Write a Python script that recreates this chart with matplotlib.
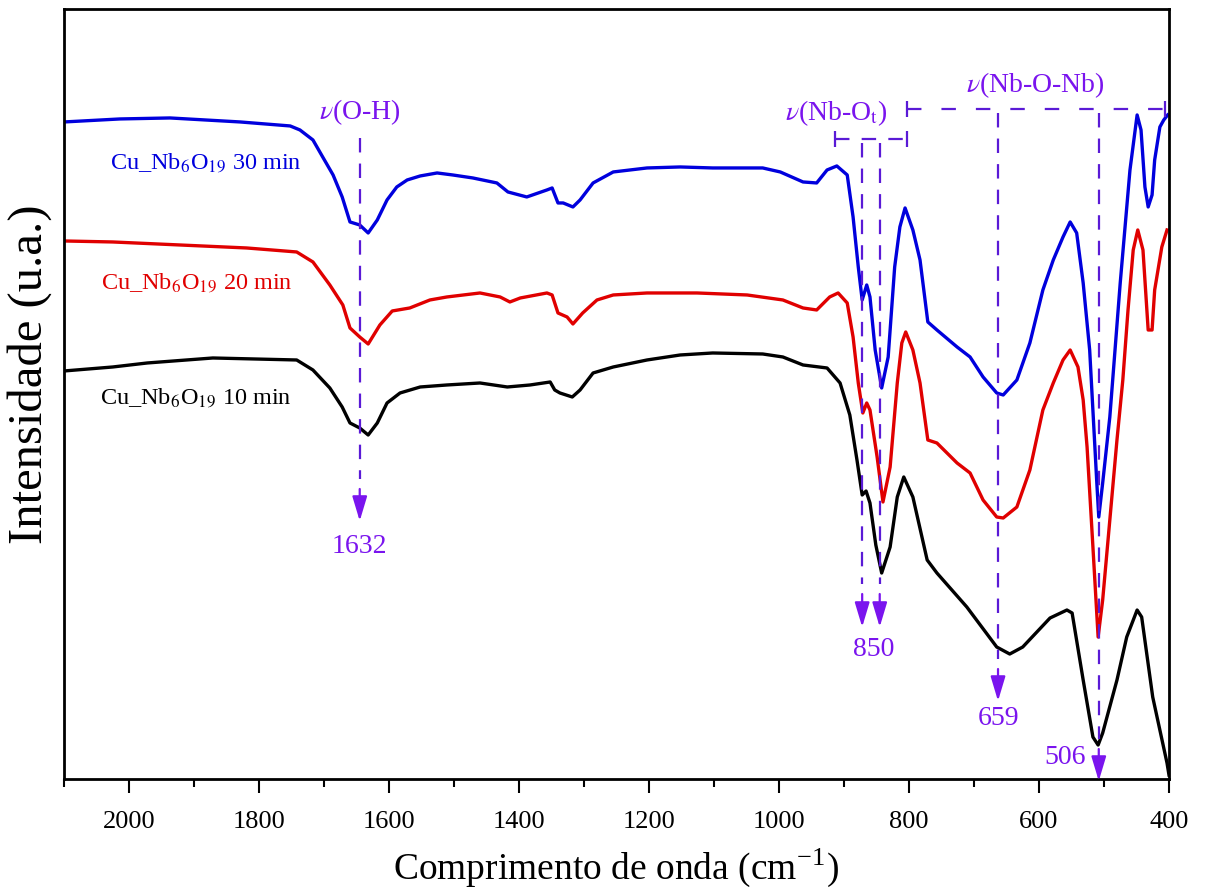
import numpy as np
import matplotlib.pyplot as plt
from matplotlib.ticker import MultipleLocator

plt.rcParams['font.family'] = ['Liberation Serif', 'DejaVu Serif']
plt.rcParams['mathtext.fontset'] = 'stix'

# espectros FTIR (numero de onda, intensidade em u.a. deslocada)
wn_30 = [2100, 2014, 1937, 1829, 1752, 1737, 1717, 1702, 1686, 1672, 1660, 1645, 1632, 1618, 1603,
         1588, 1572, 1552, 1526, 1502, 1471, 1434, 1417, 1388, 1357, 1349, 1340, 1332, 1317, 1306,
         1286, 1255, 1203, 1152, 1102, 1025, 998, 963, 942, 926, 911, 895, 886, 878, 872,
         865, 860, 852, 842, 832, 822, 814, 806, 794, 783, 771, 757, 726, 706, 686,
         665, 655, 634, 614, 594, 578, 563, 552, 542, 532, 522, 511, 508, 502, 491,
         475, 460, 449, 443, 437, 432, 426, 422, 414, 408, 402]
int_30 = [657, 660, 661, 657, 653, 649, 639, 622, 604, 582, 557, 554, 546, 559, 579,
          592, 599, 603, 606, 604, 601, 596, 587, 582, 589, 591, 576, 576, 572, 579,
          596, 607, 611, 612, 611, 611, 607, 597, 596, 609, 613, 604, 562, 512, 479,
          494, 482, 429, 391, 422, 512, 552, 571, 549, 519, 457, 449, 432, 422, 402,
          386, 384, 399, 436, 489, 519, 542, 557, 546, 496, 429, 296, 262, 296, 362,
          496, 609, 664, 649, 592, 572, 584, 619, 652, 659, 664]

wn_20 = [2100, 2025, 1922, 1819, 1742, 1717, 1691, 1671, 1660, 1645, 1632, 1614, 1595, 1568, 1537,
         1511, 1460, 1429, 1414, 1398, 1357, 1349, 1340, 1326, 1317, 1302, 1280, 1255, 1203, 1126,
         1049, 994, 963, 942, 922, 909, 895, 886, 878, 871, 865, 860, 849, 840, 829,
         818, 811, 805, 794, 783, 771, 757, 726, 706, 686, 665, 655, 634, 614, 594,
         578, 563, 552, 540, 532, 526, 517, 509, 502, 491, 480, 471, 463, 455, 448,
         440, 432, 426, 422, 411, 403]
int_20 = [538, 537, 534, 531, 527, 517, 494, 474, 451, 442, 435, 454, 468, 471, 479,
          482, 486, 482, 477, 481, 486, 484, 466, 462, 455, 466, 479, 484, 486, 486,
          484, 479, 471, 469, 482, 486, 476, 442, 396, 366, 376, 369, 322, 277, 312,
          396, 436, 447, 429, 396, 339, 336, 316, 306, 279, 262, 261, 272, 309, 369,
          396, 419, 429, 412, 379, 332, 232, 142, 179, 259, 339, 399, 469, 529, 549,
          529, 449, 449, 489, 532, 549]

wn_10 = [2100, 2025, 1972, 1871, 1742, 1717, 1691, 1672, 1660, 1645, 1632, 1618, 1603, 1583, 1552,
         1511, 1460, 1418, 1383, 1352, 1345, 1337, 1318, 1306, 1286, 1255, 1203, 1152, 1102, 1025,
         994, 963, 926, 906, 891, 880, 872, 866, 860, 851, 842, 829, 818, 808, 794,
         772, 757, 711, 665, 645, 625, 583, 557, 549, 532, 517, 509, 502, 480, 465,
         449, 442, 425, 403, 400]
int_10 = [408, 412, 416, 421, 419, 409, 391, 372, 356, 351, 344, 356, 376, 386, 392,
          394, 396, 392, 394, 397, 389, 386, 382, 389, 406, 412, 419, 424, 426, 425,
          422, 414, 411, 396, 364, 319, 284, 288, 276, 234, 206, 232, 282, 302, 282,
          219, 206, 172, 132, 125, 132, 161, 169, 166, 99, 42, 34, 46, 99, 142,
          169, 162, 82, 16, 4]

labels = [r'Cu_Nb$_6$O$_{19}$ 30 min', r'Cu_Nb$_6$O$_{19}$ 20 min', r'Cu_Nb$_6$O$_{19}$ 10 min']
colors = ['#0000dd', '#e00000', 'black']

# bandas marcadas (posicao da linha tracejada)
band_oh = 1645
bands_nbot = [872, 845]
band_nbonb = [663, 508]

purple = '#7a14ee'
line_purple = '#5a1ad6'

fig = plt.figure(figsize=(12.05, 8.94), dpi=100)
ax = fig.add_axes([0.0531, 0.1286, 0.9170, 0.8614])

kw = dict(lw=2.4, solid_joinstyle='round')
ax.plot(wn_30, int_30, color=colors[0], **kw)
ax.plot(wn_20, int_20, color=colors[1], **kw)
ax.plot(wn_10, int_10, color=colors[2], **kw)

ax.text(2029, 616, labels[0], color=colors[0], fontsize=17.5, va='center', ha='left')
ax.text(2043, 496, labels[1], color=colors[1], fontsize=17.5, va='center', ha='left')
ax.text(2044, 381, labels[2], color=colors[2], fontsize=17.5, va='center', ha='left')

dash = dict(color=line_purple, lw=1.6, dashes=(6.5, 5))


def down_arrow(x, top, arrow_top, tip):
    ax.plot([x, x], [top, arrow_top + 10], **dash)
    ax.annotate('', xy=(x, tip), xytext=(x, arrow_top), annotation_clip=False,
                arrowprops=dict(arrowstyle='-|>,head_length=1.5,head_width=0.45',
                                color=purple, lw=1.6, shrinkA=0, shrinkB=0))


# nu(O-H)
ax.text(band_oh, 667, r'$\nu$(O-H)', color=purple, fontsize=20, ha='center', va='center')
down_arrow(band_oh, 641, 290, 258)
ax.text(band_oh, 233, '1632', color=purple, fontsize=20, ha='center', va='center')

# nu(Nb-Ot)
ax.text(912, 666, r'$\nu$(Nb-O$_{\mathrm{t}}$)', color=purple, fontsize=20, ha='center', va='center')
ax.plot([914, 803], [640, 640], marker='|', markersize=12, mew=1.6, color=line_purple,
        lw=1.6, dashes=(6.5, 5.5))
for b in bands_nbot:
    down_arrow(b, 636, 185, 152)
ax.text(854, 130, '850', color=purple, fontsize=20, ha='center', va='center')

# nu(Nb-O-Nb)
ax.text(606, 694, r'$\nu$(Nb-O-Nb)', color=purple, fontsize=20, ha='center', va='center')
ax.plot([803, 406], [670, 670], marker='|', markersize=12, mew=1.6, color=line_purple,
        lw=1.6, dashes=(6.5, 9))
down_arrow(band_nbonb[0], 666, 110, 78)
ax.text(662, 61, '659', color=purple, fontsize=20, ha='center', va='center')
down_arrow(band_nbonb[1], 666, 30, -2)
ax.text(560, 22, '506', color=purple, fontsize=20, ha='center', va='center')

ax.set_xlim(2100, 400)
ax.set_ylim(0, 770)
ax.xaxis.set_major_locator(MultipleLocator(200))
ax.xaxis.set_minor_locator(MultipleLocator(100))
ax.set_yticks([])
ax.tick_params(axis='x', which='major', direction='out', length=10, width=1.5,
               labelsize=19, pad=13)
ax.tick_params(axis='x', which='minor', direction='out', length=5.5, width=1.5)
for s in ax.spines.values():
    s.set_linewidth(2)

ax.set_xlabel(r'Comprimento de onda (cm$^{\mathregular{-1}}$)', fontsize=27, labelpad=10)
ax.set_ylabel('Intensidade (u.a.)', fontsize=35)
ax.yaxis.set_label_coords(-0.011, 0.526)

fig.savefig('out.png', dpi=100)
